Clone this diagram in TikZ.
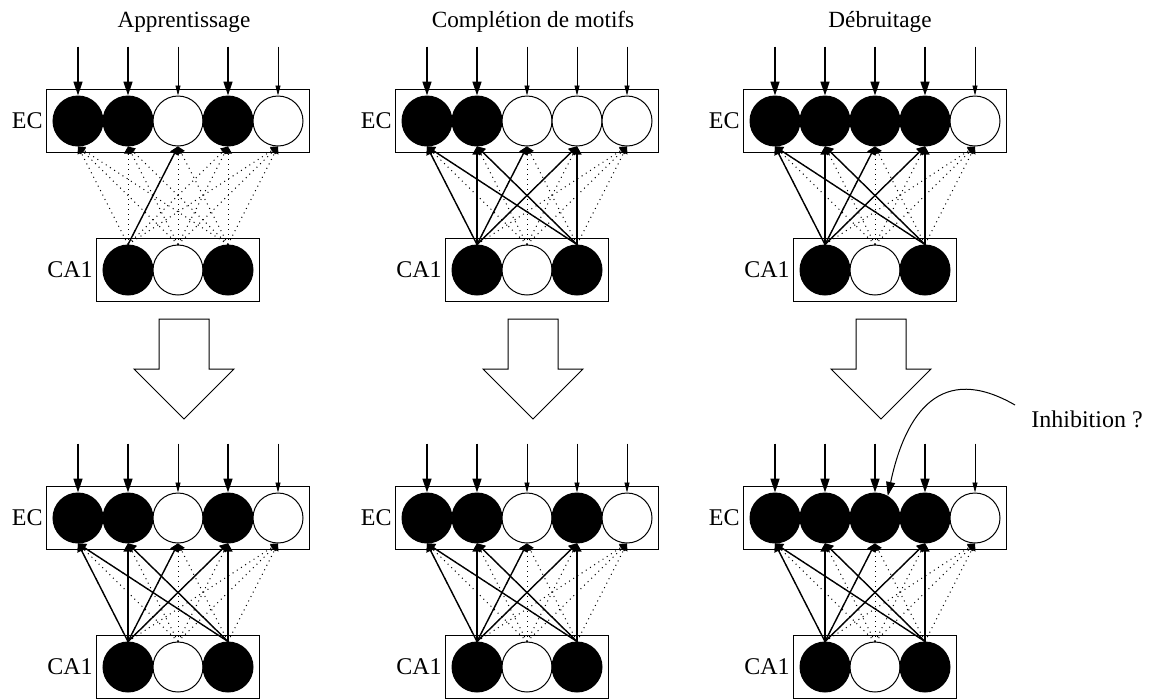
\documentclass[tikz,border=0pt]{standalone}
\usepackage{fontspec}
\setmainfont{Liberation Serif}
\usetikzlibrary{arrows.meta, fit}
\tikzset{
  neuron/.style={circle, draw, line width=0.5pt, minimum size=25pt, inner sep=0pt},
  fired/.style={neuron, fill=black},
  silent/.style={neuron, fill=white},
  layerbox/.style={draw, line width=0.5pt, inner sep=3pt},
  laylab/.style={anchor=east, inner sep=1.5pt, font=\fontsize{12pt}{14pt}\selectfont},
  title/.style={anchor=base, inner sep=0pt, font=\fontsize{11.6pt}{14pt}\selectfont},
  instrong/.style={line width=0.7pt, -{Triangle[length=7pt, width=4.5pt]}},
  inweak/.style={line width=0.4pt, -{Triangle[length=5pt, width=2.5pt]}},
  dotlink/.style={dotted, line width=0.5pt, -{Triangle[length=3.5pt, width=4pt]}},
  solidlink/.style={line width=0.7pt, -{Triangle[length=4pt, width=4.5pt]}},
}
\begin{document}
\begin{tikzpicture}[x=0.5pt, y=0.5pt]
\useasboundingbox (0,0) rectangle (1151,-698);

% titles
\node[title] (ap-title) at (184,-27) {Apprentissage};
\node[title] (co-title) at (533,-27) {Complétion de motifs};
\node[title] (de-title) at (880,-27) {Débruitage};

% EC layers and their inputs
\foreach \i/\s/\w in {1/fired/instrong, 2/fired/instrong, 3/silent/inweak, 4/fired/instrong, 5/silent/inweak}{
  \node[\s] (ap-ec\i) at (28+50*\i,-121) {};
  \draw[\w] (ap-ec\i.north) +(0,49) -- (ap-ec\i.north);
}
\foreach \i/\s/\w in {1/fired/instrong, 2/fired/instrong, 3/silent/inweak, 4/silent/inweak, 5/silent/inweak}{
  \node[\s] (co-ec\i) at (377+50*\i,-121) {};
  \draw[\w] (co-ec\i.north) +(0,49) -- (co-ec\i.north);
}
\foreach \i/\s/\w in {1/fired/instrong, 2/fired/instrong, 3/fired/instrong, 4/fired/instrong, 5/silent/inweak}{
  \node[\s] (de-ec\i) at (725+50*\i,-121) {};
  \draw[\w] (de-ec\i.north) +(0,49) -- (de-ec\i.north);
}
\foreach \i/\s/\w in {1/fired/instrong, 2/fired/instrong, 3/silent/inweak, 4/fired/instrong, 5/silent/inweak}{
  \node[\s] (ap2-ec\i) at (28+50*\i,-518) {};
  \draw[\w] (ap2-ec\i.north) +(0,49) -- (ap2-ec\i.north);
}
\foreach \i/\s/\w in {1/fired/instrong, 2/fired/instrong, 3/silent/inweak, 4/fired/inweak, 5/silent/inweak}{
  \node[\s] (co2-ec\i) at (377+50*\i,-518) {};
  \draw[\w] (co2-ec\i.north) +(0,49) -- (co2-ec\i.north);
}
\foreach \i/\s/\w in {1/fired/instrong, 2/fired/instrong, 3/fired/instrong, 4/fired/instrong, 5/silent/inweak}{
  \node[\s] (de2-ec\i) at (725+50*\i,-518) {};
  \draw[\w] (de2-ec\i.north) +(0,49) -- (de2-ec\i.north);
}

% CA1 layers, boxes and all-to-all links
\foreach \n/\dx/\dy in {ap/0/0, co/349/0, de/697/0, ap2/0/-397, co2/349/-397, de2/697/-397}{
  \foreach \j/\s in {1/fired, 2/silent, 3/fired}
    \node[\s] (\n-ca\j) at (\dx+78+50*\j,\dy-270) {};
  \node[layerbox, fit=(\n-ec1)(\n-ec5)] (\n-ecbox) {};
  \node[layerbox, fit=(\n-ca1)(\n-ca3)] (\n-cabox) {};
  \node[laylab] (\n-eclab) at (\n-ecbox.west) {EC};
  \node[laylab] (\n-calab) at (\n-cabox.west) {CA1};
  \foreach \j in {1,2,3}
    \foreach \i in {1,...,5}
      \draw[dotlink] (\n-ca\j.north) -- (\n-ec\i.south);
}

% strong weights
\draw[solidlink] (ap-ca1.north) -- (ap-ec3.south);
\foreach \n in {co, de, ap2, co2, de2}{
  \foreach \i in {1,2,3,4}
    \draw[solidlink] (\n-ca1.north) -- (\n-ec\i.south);
  \foreach \i in {1,2,4}
    \draw[solidlink] (\n-ca3.north) -- (\n-ec\i.south);
}

% big arrows
\foreach \cx in {184,533,881}
  \draw[line width=0.5pt] (\cx-25,-319) -- (\cx+25,-319) -- (\cx+25,-369) -- (\cx+50,-369)
    -- (\cx,-419) -- (\cx-50,-369) -- (\cx-25,-369) -- cycle;

% inhibition
\node[anchor=base west, inner sep=0pt, font=\fontsize{12pt}{14pt}\selectfont] (inh) at (1031,-427) {Inhibition ?};
\coordinate (inh-start) at (1015,-405);
\draw[line width=0.5pt, -{Triangle[length=7pt, width=4.5pt]}] (inh-start) to[out=150, in=78, looseness=1.4] (de2-ec3.60);
\end{tikzpicture}
\end{document}
